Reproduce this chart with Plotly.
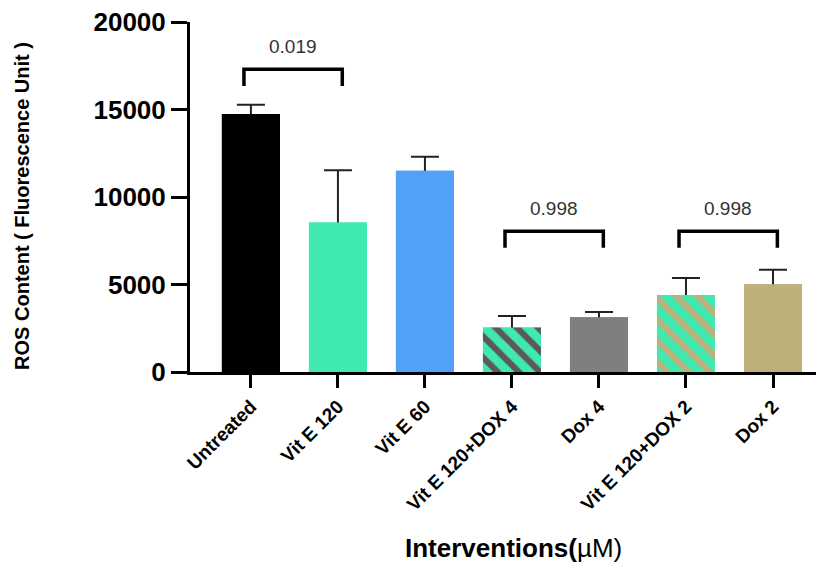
import plotly.graph_objects as go

# ---- data ----
categories = ["Untreated", "Vit E 120", "Vit E 60", "Vit E 120+DOX 4", "Dox 4", "Vit E 120+DOX 2", "Dox 2"]
means = [14750, 8550, 11500, 2550, 3130, 4400, 5020]
sem = [520, 2980, 800, 650, 300, 970, 820]
bar_colors = ["#000000", "#40E9B0", "#52A0F7", "#40E9B0", "#7F7F7F", "#40E9B0", "#BDB07B"]
pattern_shapes = ["", "", "", "\\", "", "\\", ""]
pattern_fg = ["#000000", "#40E9B0", "#52A0F7", "#5A5A5A", "#7F7F7F", "#BDB07B", "#BDB07B"]
y_ticks = [0, 5000, 10000, 15000, 20000]
# comparisons: (first index, second index, p-value label, bracket height)
comparisons = [(0, 1, "0.019", 17300), (3, 4, "0.998", 8050), (5, 6, "0.998", 8050)]

FONT = "Liberation Sans, Arial"
BAR_W = 0.667
xs = list(range(len(categories)))

fig = go.Figure()
# base bars carrying the error bars (lower half gets hidden by the bars drawn over them)
fig.add_trace(go.Bar(
    x=xs, y=means, width=BAR_W,
    marker=dict(color=bar_colors, line=dict(width=0)),
    error_y=dict(type="data", array=sem, color="#222222", thickness=2, width=14),
    showlegend=False, hoverinfo="skip",
))
# visible bars, one per category (allows a separate fill pattern for each)
for i in xs:
    marker = dict(color=bar_colors[i], line=dict(width=0))
    if pattern_shapes[i]:
        marker["pattern"] = dict(shape=pattern_shapes[i], fgcolor=pattern_fg[i], bgcolor=bar_colors[i],
                                 size=15, solidity=0.42, fillmode="replace")
    fig.add_trace(go.Bar(x=[xs[i]], y=[means[i]], width=BAR_W, marker=marker,
                         name=categories[i], showlegend=False))

shapes = []
annotations = []
leg = 950
for a, b, label, h in comparisons:
    xa, xb = a - 0.08, b + 0.05
    shapes.append(dict(type="path", xref="x", yref="y",
                       path=f"M {xa},{h - leg} L {xa},{h} L {xb},{h} L {xb},{h - leg}",
                       line=dict(color="black", width=3.5)))
    annotations.append(dict(x=(xa + xb) / 2, y=h + 1280, xref="x", yref="y", text=label,
                            showarrow=False, font=dict(family=FONT, size=19, color="#333333")))

annotations.append(dict(text="<b>Interventions(</b>µM)", xref="paper", yref="paper",
                        x=0.513, y=-0.503, xanchor="center", yanchor="middle", showarrow=False,
                        font=dict(family=FONT, size=26, color="black")))
annotations.append(dict(text="<b>ROS Content ( Fluorescence Unit )</b>", xref="paper", yref="paper",
                        x=-0.267, y=0.474, xanchor="center", yanchor="middle", textangle=-90,
                        showarrow=False, font=dict(family=FONT, size=20, color="black")))

# the page body adds an 8px offset, so margins are reduced by 8 on the left/top
fig.update_layout(
    width=824, height=574,
    margin=dict(l=182, r=12, t=14, b=210, autoexpand=False),
    paper_bgcolor="white", plot_bgcolor="white",
    shapes=shapes, annotations=annotations,
    barmode="overlay",
)
fig.update_xaxes(
    range=[-0.70, 6.54], automargin=False,
    tickmode="array", tickvals=xs, ticktext=categories,
    tickangle=-45,
    tickfont=dict(family=FONT, size=19, color="black", weight="bold"),
    showline=True, linecolor="black", linewidth=3,
    ticks="outside", ticklen=13, tickwidth=3, tickcolor="black",
    showgrid=False, zeroline=False,
)
fig.update_yaxes(
    range=[0, 20000], automargin=False,
    tickmode="array", tickvals=y_ticks, ticktext=[str(v) for v in y_ticks],
    tickfont=dict(family=FONT, size=26, color="black", weight="bold"),
    ticklabeloverflow="allow",
    showline=True, linecolor="black", linewidth=3,
    ticks="outside", ticklen=16, tickwidth=3, tickcolor="black",
    showgrid=False, zeroline=False,
)

fig.write_html("out.html")
